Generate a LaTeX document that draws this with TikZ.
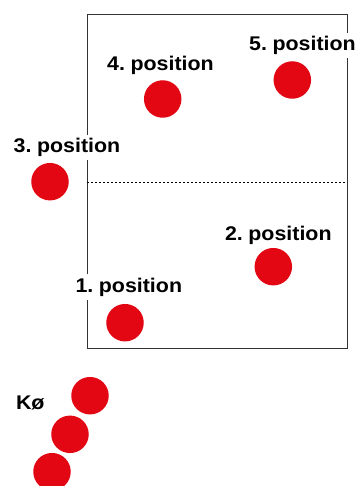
\documentclass[tikz,border=0pt]{standalone}
\usepackage{fontspec}
\setmainfont[FakeStretch=1.08,WordSpace=0.6]{Liberation Sans}
\definecolor{pred}{HTML}{E30613}
\definecolor{courtline}{HTML}{333333}
\begin{document}
\begin{tikzpicture}[x=1pt,y=-1pt,
  player/.style={circle, fill=pred, minimum size=37.5pt, inner sep=0pt},
  lbl/.style={fill=white, font=\bfseries\fontsize{19.8}{22}\selectfont, inner sep=3.5pt, anchor=base},
  court/.style={draw=courtline, line width=0.9pt, minimum width=259.5pt, minimum height=333pt, inner sep=0pt, anchor=north west},
  midline/.style={draw=black, line width=0.6pt, dash pattern=on 2pt off 2pt}
]
\useasboundingbox (0,0) rectangle (356,486);

% playing area and its centre line
\node[court] (field) at (87,14.5) {};
\coordinate (midL) at (87,182.3);
\coordinate (midR) at (346.5,182.3);
\draw[midline] (midL) -- (midR);

% players on court
\node[player] (p1) at (125,322.7) {};
\node[player] (p2) at (273.3,266.7) {};
\node[player] (p3) at (50,181.7) {};
\node[player] (p4) at (162.7,99) {};
\node[player] (p5) at (292.3,80) {};

% queue
\node[player] (q1) at (90,395.7) {};
\node[player] (q2) at (70,434.3) {};
\node[player] (q3) at (52,471.7) {};

% labels
\node[lbl] (l1) at (128.8,292.3) {1. position};
\node[lbl] (l2) at (278.3,240.7) {2. position};
\node[lbl] (l3) at (67,152.7) {3. position};
\node[lbl] (l4) at (160.5,71) {4. position};
\node[lbl] (l5) at (302.5,50.7) {5. position};
\node[lbl] (lq) at (30.3,409) {Kø};
\end{tikzpicture}
\end{document}
